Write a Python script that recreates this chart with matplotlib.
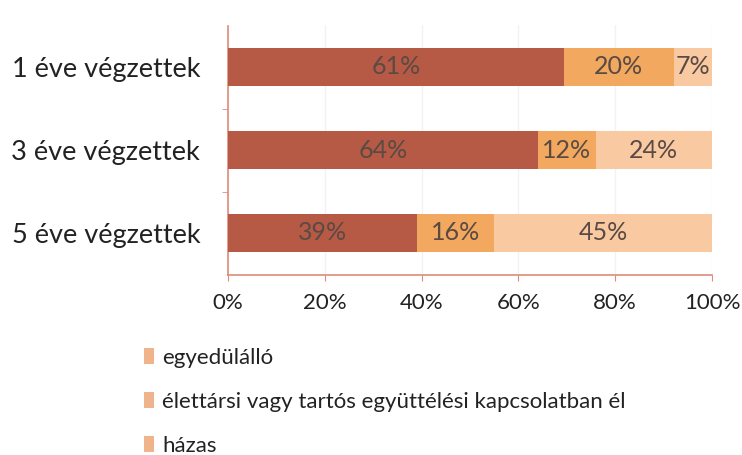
import matplotlib
matplotlib.use("Agg")
import matplotlib.pyplot as plt
from matplotlib.patches import Patch
import numpy as np

categories = ["1 éve végzettek", "3 éve végzettek", "5 éve végzettek"]
series_names = ["egyedülálló", "élettársi vagy tartós együttélési kapcsolatban él", "házas"]
egyedulallo = [61, 64, 39]
elettarsi = [20, 12, 16]
hazas = [7, 24, 45]
xtick_labels = ["0%", "20%", "40%", "60%", "80%", "100%"]

colors = ["#B65A45", "#F2A85E", "#F9C9A2"]
legend_color = "#F0B48C"
axis_color = "#DE8C78"
text_color = "#5A4A44"

plt.rcParams['font.family'] = ['Lato', 'DejaVu Sans']

fig = plt.figure(figsize=(7.42, 4.55), dpi=100)
ax = fig.add_axes([228/742, 1-274.5/455, 484/742, 249/455])

data = np.array([egyedulallo, elettarsi, hazas], dtype=float)
totals = data.sum(axis=0)
pct = data / totals * 100
y = np.arange(len(categories))
left = np.zeros(len(categories))
for i in range(3):
    bars = ax.barh(y, pct[i], left=left, height=0.45, color=colors[i], zorder=3)
    for j, b in enumerate(bars):
        cx = left[j] + pct[i][j] / 2
        ax.text(cx, y[j], f"{int(data[i][j])}%", ha="center", va="center",
                fontsize=18, color=text_color, zorder=4)
    left += pct[i]

ax.set_xlim(0, 100)
ax.set_ylim(len(categories) - 0.5, -0.5)
ax.set_yticks(y)
ax.set_yticklabels(categories, fontsize=19.5, color="#222222")
ax.set_xticks(np.arange(0, 101, 20))
ax.set_xticklabels(xtick_labels, fontsize=16, color="#222222")
ax.set_yticks([0.5, 1.5], minor=True)
ax.tick_params(axis='y', which='major', length=0, pad=20)
ax.tick_params(axis='y', which='minor', length=4, color=axis_color, direction='out')
ax.tick_params(axis='x', length=4, color=axis_color, pad=9)
ax.grid(axis='x', color="#F2F2F2", linewidth=1, zorder=0)
for s in ["top", "right"]:
    ax.spines[s].set_visible(False)
for s in ["left", "bottom"]:
    ax.spines[s].set_color(axis_color)
    ax.spines[s].set_linewidth(1.2)

handles = [Patch(facecolor=legend_color, edgecolor='none') for _ in series_names]
fig.legend(handles, series_names, loc="upper left", bbox_to_anchor=(128/742, 1-332/455),
           frameon=False, fontsize=16, handlelength=0.45, handleheight=0.7,
           handletextpad=0.4, labelspacing=1.08, labelcolor="#222222",
           borderpad=0.2)

fig.savefig("out.png", dpi=100)
